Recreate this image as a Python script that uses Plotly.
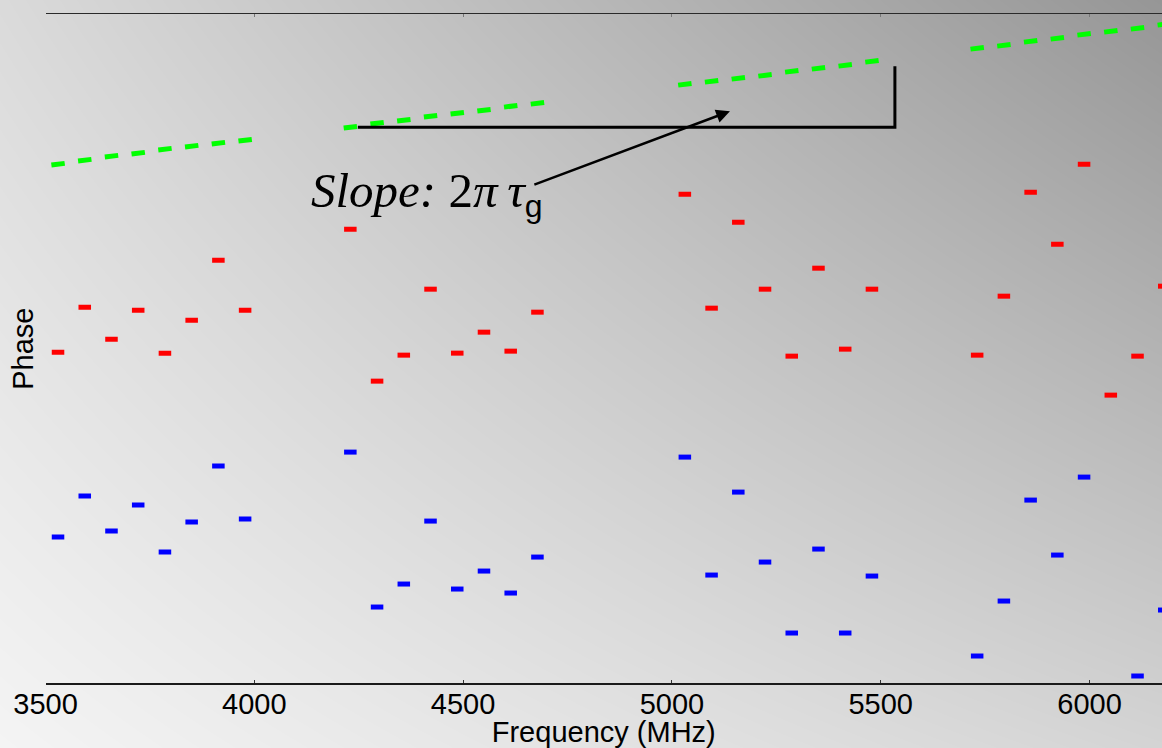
import plotly.graph_objects as go

# ---------------- data ----------------
channel_freq = [3530, 3594, 3658, 3722, 3786, 3850, 3914, 3978,
                4230, 4294, 4358, 4422, 4486, 4550, 4614, 4678,
                5031, 5095, 5159, 5223, 5287, 5351, 5415, 5479,
                5731, 5795, 5859, 5923, 5987, 6051, 6115, 6179]

phase_red = [3.31, 3.76, 3.44, 3.73, 3.30, 3.63, 4.23, 3.73,
             4.54, 3.02, 3.28, 3.94, 3.30, 3.51, 3.32, 3.71,
             4.89, 3.75, 4.61, 3.94, 3.27, 4.15, 3.34, 3.94,
             3.28, 3.87, 4.91, 4.39, 5.19, 2.88, 3.27, 3.97]

phase_blue = [1.46, 1.87, 1.52, 1.78, 1.31, 1.61, 2.17, 1.64,
              2.31, 0.76, 0.99, 1.62, 0.94, 1.12, 0.90, 1.26,
              2.26, 1.08, 1.91, 1.21, 0.50, 1.34, 0.50, 1.07,
              0.27, 0.82, 1.83, 1.28, 2.06, -0.29, 0.07, 0.73]

phase_green = [5.19, 5.23, 5.27, 5.30, 5.34, 5.37, 5.40, 5.43,
               5.56, 5.60, 5.63, 5.67, 5.70, 5.73, 5.77, 5.80,
               5.99, 6.02, 6.05, 6.08, 6.12, 6.15, 6.18, 6.22,
               6.35, 6.38, 6.42, 6.45, 6.49, 6.52, 6.55, 6.59]

x_ticks = [3500, 4000, 4500, 5000, 5500, 6000]
x_range = [3500, 6173.6]
y_range = [0, 6.69]

# slope-triangle annotation (data coordinates)
bracket_x = [4248, 5534, 5534]
bracket_y = [5.56, 5.56, 6.17]
arrow_tail = (4667, 4.98)
arrow_tip = (5139, 5.72)
label_pos = (4132, 4.90)

# background gradient corner grey levels (BL, BR / TL, TR)
bg_levels = [[244, 212], [218, 150]]

CH_HALF = 15          # half channel width in MHz (red / blue)
GREEN_HALF = 16       # half length of a green dash in MHz
GREEN_SLOPE = 0.00053  # per MHz


def segments(freqs, vals, half, slope=0.0):
    xs, ys = [], []
    for f, v in zip(freqs, vals):
        xs += [f - half, f + half, None]
        ys += [v - slope * half, v + slope * half, None]
    return xs, ys


W, H = 1162, 748
x_dom = [45.5 / W, 1.0]
y_dom = [1 - 683 / H, 1 - 14.3 / H]

fig = go.Figure()

# background gradient
fig.add_trace(go.Heatmap(
    z=bg_levels, x=[0, 1], y=[0, 1], zmin=0, zmax=255,
    colorscale=[[0, "rgb(0,0,0)"], [1, "rgb(255,255,255)"]],
    zsmooth="best", showscale=False, hoverinfo="skip",
    xaxis="x", yaxis="y"))

rx, ry = segments(channel_freq, phase_red, CH_HALF)
bx, by = segments(channel_freq, phase_blue, CH_HALF)
gx, gy = segments(channel_freq, phase_green, GREEN_HALF, GREEN_SLOPE)

fig.add_trace(go.Scatter(x=gx, y=gy, mode="lines",
                         line=dict(color="#00ff00", width=5),
                         xaxis="x2", yaxis="y2", hoverinfo="skip", showlegend=False))
fig.add_trace(go.Scatter(x=rx, y=ry, mode="lines",
                         line=dict(color="#ff0000", width=5),
                         xaxis="x2", yaxis="y2", hoverinfo="skip", showlegend=False))
fig.add_trace(go.Scatter(x=bx, y=by, mode="lines",
                         line=dict(color="#0000ff", width=5),
                         xaxis="x2", yaxis="y2", hoverinfo="skip", showlegend=False))
fig.add_trace(go.Scatter(x=bracket_x, y=bracket_y, mode="lines",
                         line=dict(color="black", width=3),
                         xaxis="x3", yaxis="y2", hoverinfo="skip", showlegend=False))

font_sans = "Liberation Sans, Arial, sans-serif"

fig.update_layout(
    width=W, height=H,
    margin=dict(l=0, r=0, t=0, b=0),
    paper_bgcolor="white",
    plot_bgcolor="rgba(0,0,0,0)",
    showlegend=False,
    xaxis=dict(domain=[0, 1], range=[0, 1], visible=False, fixedrange=True),
    yaxis=dict(domain=[0, 1], range=[0, 1], visible=False, fixedrange=True),
    xaxis2=dict(domain=x_dom, range=x_range, anchor="y2",
                showline=True, linecolor="#1a1a1a", linewidth=2,
                ticks="inside", ticklen=3, tickcolor="#333",
                tickvals=x_ticks, ticktext=[str(t) for t in x_ticks],
                tickfont=dict(family=font_sans, size=29, color="black"),
                ticklabelstandoff=-6,
                showgrid=False, zeroline=False, automargin=False,
                title=dict(text="Frequency (MHz)", standoff=13,
                           font=dict(family=font_sans, size=29, color="black"))),
    xaxis3=dict(overlaying="x2", side="top", anchor="y2", range=x_range,
                showline=True, linecolor="#2a2a2a", linewidth=1,
                ticks="inside", ticklen=3, tickcolor="#777",
                tickvals=x_ticks, showticklabels=False,
                showgrid=False, zeroline=False, automargin=False),
    yaxis2=dict(domain=y_dom, range=y_range, anchor="x2",
                showline=False, showticklabels=False, ticks="",
                showgrid=False, zeroline=False, automargin=False,
                title=dict(text="Phase", standoff=2,
                           font=dict(family=font_sans, size=29, color="black"))),
    annotations=[
        dict(x=arrow_tip[0], y=arrow_tip[1], ax=arrow_tail[0], ay=arrow_tail[1],
             xref="x2", yref="y2", axref="x2", ayref="y2",
             text="", showarrow=True, arrowhead=2, arrowsize=1.1,
             arrowwidth=2.5, arrowcolor="black"),
        dict(x=label_pos[0], y=label_pos[1], xref="x2", yref="y2",
             xanchor="left", yanchor="middle", showarrow=False,
             text=("<i>Slope:</i> 2<i>π\u2009τ</i>"
                   "<sub><span style='font-family:Liberation Sans;font-size:32px'>g</span></sub>"),
             font=dict(family="Liberation Serif, Times New Roman, serif",
                       size=49, color="black")),
    ],
)

fig.write_html("out.html")
